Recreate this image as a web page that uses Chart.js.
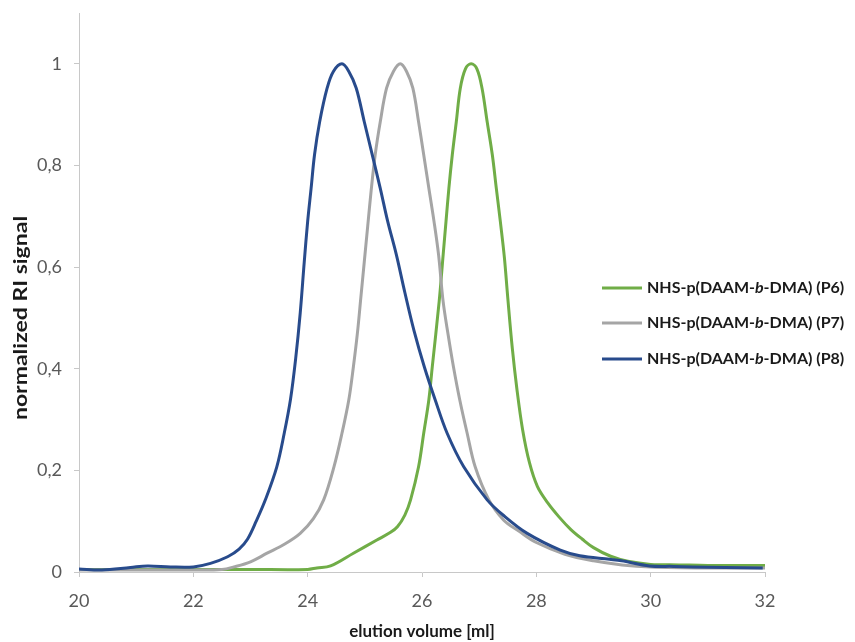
<!DOCTYPE html>
<html>
<head>
<meta charset="utf-8">
<script src="https://cdn.jsdelivr.net/npm/chart.js@4.4.0/dist/chart.umd.min.js"></script>
<style>
  html, body { margin: 0; padding: 0; background: #fff; }
  #wrap { width: 855px; height: 642px; position: relative; }
</style>
</head>
<body>
<div id="wrap"><canvas id="sec"></canvas></div>
<script>
/* data */
const seriesNames = ["P6", "P7", "P8"];
const xTicks = [20, 22, 24, 26, 28, 30, 32];
const yTicks = [0, 0.2, 0.4, 0.6, 0.8, 1];

const p6X = [20, 21, 22, 23, 24, 24.16, 24.4, 24.8, 25.21, 25.45, 25.57, 25.7, 25.8, 25.94, 26.03, 26.12, 26.18, 26.3, 26.37, 26.42, 26.47, 26.53, 26.6, 26.67, 26.76, 26.86, 26.96, 27.05, 27.14, 27.23, 27.3, 27.37, 27.44, 27.5, 27.58, 27.66, 27.76, 27.88, 28.02, 28.2, 28.4, 28.6, 28.8, 29.0, 29.3, 29.6, 30.0, 30.5, 31, 32];
const p6Y = [0.005, 0.005, 0.005, 0.005, 0.005, 0.008, 0.012, 0.037, 0.063, 0.078, 0.089, 0.112, 0.142, 0.207, 0.273, 0.339, 0.404, 0.532, 0.624, 0.69, 0.755, 0.821, 0.886, 0.952, 0.99, 1.0, 0.99, 0.952, 0.886, 0.821, 0.755, 0.69, 0.62, 0.54, 0.44, 0.36, 0.28, 0.215, 0.168, 0.136, 0.108, 0.084, 0.065, 0.048, 0.031, 0.021, 0.015, 0.014, 0.013, 0.013];

const p7X = [20, 21, 22, 22.5, 22.71, 23.0, 23.29, 23.6, 23.87, 24.1, 24.28, 24.46, 24.6, 24.72, 24.8, 24.87, 24.93, 24.99, 25.05, 25.11, 25.18, 25.27, 25.38, 25.5, 25.62, 25.73, 25.84, 25.94, 26.03, 26.12, 26.21, 26.29, 26.37, 26.46, 26.55, 26.66, 26.79, 26.93, 27.17, 27.43, 27.7, 28, 28.5, 29, 29.5, 30, 31, 32];
const p7Y = [0.004, 0.004, 0.004, 0.005, 0.01, 0.02, 0.037, 0.055, 0.076, 0.105, 0.142, 0.207, 0.273, 0.339, 0.404, 0.47, 0.54, 0.61, 0.68, 0.75, 0.82, 0.886, 0.952, 0.985, 1.0, 0.985, 0.952, 0.886, 0.821, 0.755, 0.69, 0.624, 0.532, 0.465, 0.404, 0.339, 0.273, 0.207, 0.142, 0.102, 0.08, 0.058, 0.035, 0.022, 0.014, 0.01, 0.008, 0.008];

const p8X = [20, 20.4, 20.9, 21.2, 21.6, 22.0, 22.3, 22.6, 22.8, 22.95, 23.1, 23.26, 23.46, 23.59, 23.7, 23.79, 23.87, 23.94, 24.0, 24.06, 24.12, 24.21, 24.34, 24.45, 24.6, 24.72, 24.85, 24.99, 25.13, 25.27, 25.4, 25.55, 25.7, 25.86, 26.04, 26.23, 26.44, 26.73, 27.14, 27.44, 27.84, 28.42, 28.76, 29.28, 29.49, 29.98, 30.4, 30.74, 31.3, 31.96];
const p8Y = [0.006, 0.004, 0.009, 0.012, 0.01, 0.01, 0.017, 0.03, 0.045, 0.065, 0.1, 0.142, 0.207, 0.273, 0.34, 0.42, 0.51, 0.61, 0.69, 0.755, 0.821, 0.886, 0.952, 0.985, 1.0, 0.985, 0.952, 0.886, 0.821, 0.755, 0.69, 0.625, 0.55, 0.475, 0.404, 0.339, 0.273, 0.207, 0.142, 0.11, 0.076, 0.043, 0.032, 0.025, 0.022, 0.012, 0.011, 0.010, 0.009, 0.008];

const seriesColors = ["#70AD47", "#A5A5A5", "#284B8C"];

function pts(xs, ys) {
  return xs.map(function (x, i) { return { x: x, y: ys[i] }; });
}

const axisGrey = "#c8c8c8";
const tickGrey = "#595959";
const fam = "Lato, 'Open Sans', sans-serif";

// legend inside the plot (italic "b") and the y title, which sits lower than centre
const labelPlugin = {
  id: "secLabels",
  afterDraw: function (chart) {
    const ctx = chart.ctx;
    const rows = [288, 323, 359];
    chart.data.datasets.forEach(function (ds, i) {
      const y = rows[i];
      ctx.save();
      ctx.strokeStyle = ds.borderColor;
      ctx.lineWidth = 3;
      ctx.beginPath();
      ctx.moveTo(602, y);
      ctx.lineTo(642, y);
      ctx.stroke();
      ctx.fillStyle = "#1a1a1a";
      ctx.textBaseline = "middle";
      let x = 647;
      const parts = [["bold", "NHS-p(DAAM-"], ["italic bold", "b"], ["bold", "-DMA) (" + seriesNames[i] + ")"]];
      parts.forEach(function (p) {
        ctx.font = p[0] + " 16px " + fam;
        ctx.fillText(p[1], x, y);
        x += ctx.measureText(p[1]).width;
      });
      ctx.restore();
    });

    ctx.save();
    ctx.translate(21, 318);
    ctx.rotate(-Math.PI / 2);
    ctx.scale(1, 0.8);
    ctx.font = "bold 23px " + fam;
    ctx.fillStyle = "#1a1a1a";
    ctx.textAlign = "center";
    ctx.textBaseline = "middle";
    ctx.fillText("normalized RI signal", 0, 0);
    ctx.restore();
  }
};

new Chart(document.getElementById("sec"), {
  type: "line",
  data: {
    datasets: [
      { label: seriesNames[0], data: pts(p6X, p6Y), borderColor: seriesColors[0], order: 2 },
      { label: seriesNames[1], data: pts(p7X, p7Y), borderColor: seriesColors[1], order: 1 },
      { label: seriesNames[2], data: pts(p8X, p8Y), borderColor: seriesColors[2], order: 0 }
    ]
  },
  options: {
    responsive: true,
    maintainAspectRatio: false,
    animation: false,
    elements: {
      point: { radius: 0 },
      line: { borderWidth: 3, tension: 0.35, fill: false }
    },
    layout: { padding: { top: 13, right: 90, left: 0, bottom: 0 } },
    plugins: { legend: { display: false }, tooltip: { enabled: false } },
    scales: {
      x: {
        type: "linear",
        min: 20,
        max: 32,
        afterFit: function (s) { s.height = 70; },
        afterBuildTicks: function (s) { s.ticks = xTicks.map(function (v) { return { value: v }; }); },
        grid: { drawOnChartArea: false, drawTicks: true, tickLength: 5, color: axisGrey },
        border: { color: axisGrey, width: 1 },
        ticks: { color: tickGrey, font: { family: fam, size: 18 }, padding: 13, maxRotation: 0 },
        title: { display: true, text: "elution volume [ml]", color: "#1a1a1a", font: { family: fam, size: 17, weight: "bold" }, padding: { top: 0, bottom: 0 } }
      },
      y: {
        type: "linear",
        min: 0,
        max: 1.1,
        afterFit: function (s) { s.width = 79; s.paddingTop = 0; s.paddingBottom = 0; },
        afterBuildTicks: function (s) { s.ticks = yTicks.map(function (v) { return { value: v }; }); },
        grid: { drawOnChartArea: false, drawTicks: true, tickLength: 5, color: axisGrey },
        border: { color: axisGrey, width: 1 },
        ticks: {
          color: tickGrey,
          font: { family: fam, size: 18 },
          padding: 12,
          callback: function (v) { return String(Math.round(v * 10) / 10).replace(".", ","); }
        },
        title: { display: false }
      }
    }
  },
  plugins: [labelPlugin]
});
</script>
</body>
</html>
